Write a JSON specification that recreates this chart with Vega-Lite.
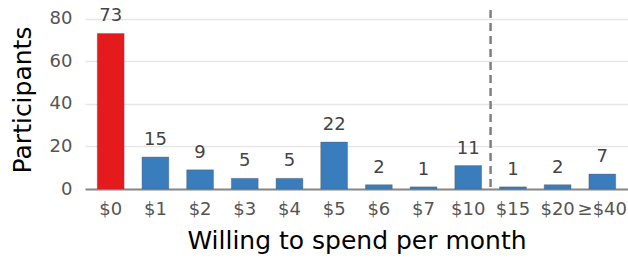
{
  "$schema": "https://vega.github.io/schema/vega-lite/v6.json",
  "autosize": {"type": "none"},
  "padding": {"left": 85, "top": 10, "right": 0, "bottom": 69},
  "width": 543,
  "height": 179,
  "background": "white",
  "config": {
    "view": {"stroke": null},
    "font": "DejaVu Sans"
  },
  "data": {
    "values": [
      {"amount": "$0", "participants": 73, "group": "zero"},
      {"amount": "$1", "participants": 15, "group": "paid"},
      {"amount": "$2", "participants": 9, "group": "paid"},
      {"amount": "$3", "participants": 5, "group": "paid"},
      {"amount": "$4", "participants": 5, "group": "paid"},
      {"amount": "$5", "participants": 22, "group": "paid"},
      {"amount": "$6", "participants": 2, "group": "paid"},
      {"amount": "$7", "participants": 1, "group": "paid"},
      {"amount": "$10", "participants": 11, "group": "paid"},
      {"amount": "$15", "participants": 1, "group": "paid"},
      {"amount": "$20", "participants": 2, "group": "paid"},
      {"amount": "≥$40", "participants": 7, "group": "paid"}
    ]
  },
  "layer": [
    {
      "mark": {"type": "bar", "stroke": "#555555", "strokeWidth": 0.6, "strokeOpacity": 0.6},
      "encoding": {
        "x": {
          "field": "amount", "type": "nominal",
          "scale": {
            "domain": ["$0", "$1", "$2", "$3", "$4", "$5", "$6", "$7", "$10", "$15", "$20", "≥$40"],
            "paddingInner": 0.4, "paddingOuter": 0.275
          },
          "axis": {
            "title": "Willing to spend per month",
            "titleFont": "DejaVu Sans", "titleFontSize": 25, "titleFontWeight": "normal", "titleColor": "#000000",
            "titlePadding": 10,
            "labelAngle": 0, "labelFontSize": 18, "labelColor": "#555555", "labelPadding": 11,
            "ticks": false, "domainColor": "#888888", "domainWidth": 2
          }
        },
        "y": {
          "field": "participants", "type": "quantitative",
          "scale": {"domain": [0, 84], "nice": false},
          "axis": {
            "title": "Participants",
            "titleFont": "DejaVu Sans", "titleFontSize": 25, "titleFontWeight": "normal", "titleColor": "#000000",
            "titlePadding": 14,
            "values": [0, 20, 40, 60, 80],
            "labelFontSize": 18, "labelColor": "#555555", "labelPadding": 13,
            "ticks": false, "domain": false,
            "gridColor": "#e6e6e6", "gridWidth": 1.5
          }
        },
        "color": {
          "field": "group", "type": "nominal",
          "scale": {"domain": ["zero", "paid"], "range": ["#e41a1c", "#3a7dbc"]},
          "legend": null
        }
      }
    },
    {
      "mark": {"type": "text", "baseline": "bottom", "dy": -8, "fontSize": 18, "color": "#444444"},
      "encoding": {
        "x": {"field": "amount", "type": "nominal"},
        "y": {"field": "participants", "type": "quantitative"},
        "text": {"field": "participants", "type": "quantitative"}
      }
    },
    {
      "data": {"values": [{"amount": "$10"}]},
      "mark": {"type": "rule", "color": "#808080", "strokeWidth": 2.5, "strokeDash": [8, 5]},
      "encoding": {
        "x": {"field": "amount", "type": "nominal", "bandPosition": 1.333}
      }
    }
  ]
}
